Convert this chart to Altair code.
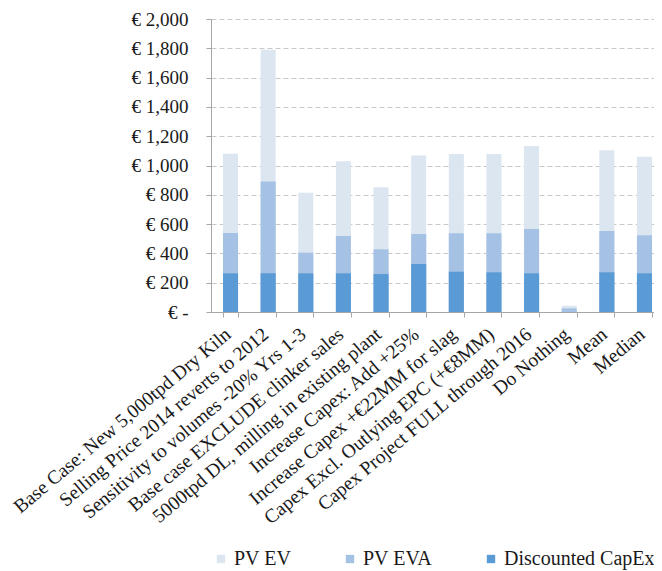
import altair as alt
import pandas as pd

categories = [
    "Base Case: New 5,000tpd Dry Kiln",
    "Selling Price 2014 reverts to 2012",
    "Sensitivity to volumes -20% Yrs 1-3",
    "Base case EXCLUDE clinker sales",
    "5000tpd DL, milling in existing plant",
    "Increase Capex: Add +25%",
    "Increase Capex +€22MM for slag",
    "Capex Excl. Outlying EPC (+€8MM)",
    "Capex Project FULL through 2016",
    "Do Nothing",
    "Mean",
    "Median",
]
pv_ev = [1080, 1790, 814, 1029, 851, 1069, 1079, 1079, 1133, 43, 1104, 1060]
pv_eva = [540, 890, 405, 519, 428, 532, 537, 537, 567, 25, 553, 524]
capex = [264, 264, 264, 264, 259, 328, 275, 271, 264, 0, 271, 264]

series_names = ["PV EV", "PV EVA", "Discounted CapEx"]
series_colors = ["#dce6f1", "#a5c2e5", "#5b9bd5"]

rows = []
for name, vals in zip(series_names, [pv_ev, pv_eva, capex]):
    for i, (c, v) in enumerate(zip(categories, vals)):
        rows.append({"category": c, "series": name, "value": v, "idx": i})
df = pd.DataFrame(rows)

FONT = "Liberation Serif"

chart = alt.Chart(df).mark_bar().encode(
    x=alt.X(
        "category:N",
        sort=categories,
        title=None,
        scale=alt.Scale(paddingInner=0.6, paddingOuter=0.186, align=0.857),
        axis=alt.Axis(
            labelAngle=-40,
            labelAlign="right",
            labelBaseline="alphabetic",
            labelFontSize=19.5,
            labelFont=FONT,
            labelColor="#1a1a1a",
            labelLimit=0,
            labelPadding=19,
            labelOffset=1,
            tickBand="extent",
            tickSize=5,
            tickColor="#a6a6a6",
            domainColor="#a6a6a6",
            grid=False,
        ),
    ),
    y=alt.Y(
        "value:Q",
        stack=None,
        title=None,
        scale=alt.Scale(domain=[0, 2000], nice=False),
        axis=alt.Axis(
            values=list(range(0, 2001, 200)),
            labelExpr="datum.value == 0 ? '€ -' : '€ ' + format(datum.value, ',')",
            labelFontSize=19,
            labelFont=FONT,
            labelColor="#1a1a1a",
            labelPadding=18,
            tickSize=5,
            tickColor="#a6a6a6",
            domainColor="#a6a6a6",
            gridColor="#c8c8c8",
            gridDash=[5, 3],
            gridWidth=1,
        ),
    ),
    color=alt.Color(
        "series:N",
        scale=alt.Scale(domain=series_names, range=series_colors),
        legend=alt.Legend(
            title=None,
            orient="none",
            direction="horizontal",
            legendX=0,
            legendY=530,
            symbolType="square",
            symbolSize=70,
            symbolStrokeWidth=0,
            labelFont=FONT,
            labelFontSize=20,
            labelColor="#1a1a1a",
            columnPadding=48,
            gridAlign="each",
            labelOffset=3,
            padding=0,
        ),
    ),
    order=alt.Order("idx:Q"),
).properties(
    width=443,
    height=293,
    autosize=alt.AutoSizeParams(type="none"),
    padding={"left": 203, "top": 11, "right": 0, "bottom": 259},
).configure_view(stroke=None)

chart.save("out.html", embed_options={"renderer": "svg", "actions": False})
